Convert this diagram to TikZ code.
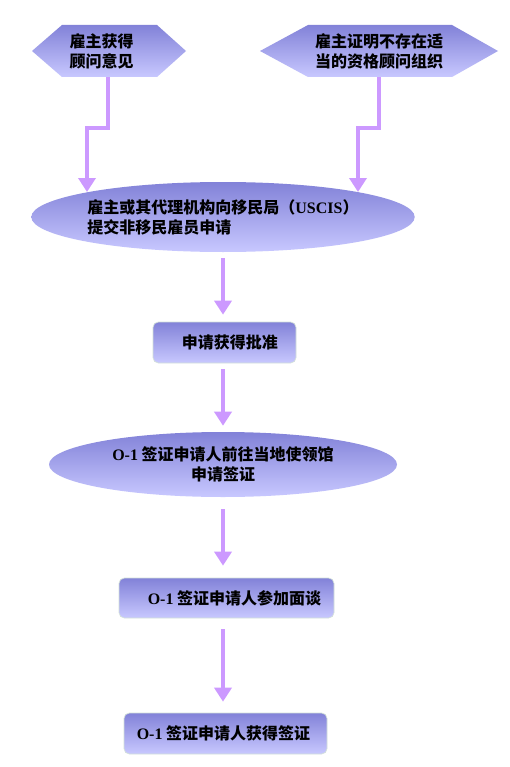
\documentclass[tikz,border=0pt]{standalone}
\usepackage{fontspec}
\setmainfont{Liberation Serif}
\newfontfamily\cjk{Noto Sans CJK SC}
\newcommand{\lat}[1]{{\rmfamily\bfseries #1}}
\usetikzlibrary{arrows.meta,shapes.geometric}
\definecolor{shtop}{HTML}{8282D8}
\definecolor{shbot}{HTML}{C8C8FF}
\definecolor{arrowc}{HTML}{CC99FF}
\definecolor{edgec}{HTML}{D4E2D8}
\tikzset{
  txt/.style={font=\cjk\bfseries\fontsize{12}{15}\selectfont, text=black, inner sep=0pt},
  hexfill/.style={top color=shtop, bottom color=shbot, draw=none},
  ellbox/.style={txt, ellipse, top color=shtop, bottom color=shbot, draw=none},
  rbox/.style={txt, rectangle, rounded corners=4pt, top color=shtop, bottom color=shbot, draw=edgec, line width=0.5pt},
  conn/.style={draw=arrowc, line width=3.4pt, -{Triangle[width=12.75pt,length=10.5pt]}},
}
\begin{document}
\begin{tikzpicture}[x=0.75pt,y=-0.75pt]
\useasboundingbox (0,0) rectangle (510,767);
\fill[white] (0,0) rectangle (510,767);

% hexagons
\path[hexfill] (32,51) -- (62,25) -- (157,25) -- (186,51) -- (157,77) -- (62,77) -- cycle;
\node[txt, minimum width=60pt, minimum height=39pt, align=left] (h1) at (101.5,51) {雇主获得\\顾问意见};
\path[hexfill] (260,51) -- (308,25) -- (452,25) -- (498,51) -- (452,77) -- (308,77) -- cycle;
\node[txt, minimum width=108pt, minimum height=39pt, align=left] (h2) at (379,51) {雇主证明不存在适\\当的资格顾问组织};

% ellipses and boxes
\node[ellbox, minimum width=287.25pt, minimum height=52.5pt, align=left] (e1) at (223,217)
  {雇主或其代理机构向移民局（\lat{USCIS}）\\提交非移民雇员申请};
\node[rbox, minimum width=107.25pt, minimum height=30.75pt] (b1) at (224.5,342.5)
  {\hspace*{8pt}申请获得批准};
\node[ellbox, minimum width=261pt, minimum height=48.75pt, align=center] (e2) at (223,464.5)
  {\lat{O-1} 签证申请人前往当地使领馆\\申请签证};
\node[rbox, minimum width=161.25pt, minimum height=30pt] (b2) at (226.5,598)
  {\hspace*{12pt}\lat{O-1} 签证申请人参加面谈};
\node[rbox, minimum width=152.25pt, minimum height=30.75pt] (b3) at (225.5,733.5)
  {\lat{O-1} 签证申请人获得签证\hspace*{3pt}};

% connectors
\coordinate (m1) at (87,128);
\coordinate (a1) at (87,192);
\coordinate (m2) at (358,128);
\coordinate (a2) at (358,192);
\draw[conn] ([xshift=4.875pt]h1.south) |- (m1) -- (a1);
\draw[conn] (h2.south) |- (m2) -- (a2);
\draw[conn, shorten <=4.5pt, shorten >=5.25pt] (e1.south) -- (e1.south |- b1.north);
\draw[conn, shorten <=4.5pt, shorten >=4.5pt] (e1.south |- b1.south) -- (e1.south |- e2.north);
\draw[conn, shorten <=9pt, shorten >=9pt] (e2.south) -- (e2.south |- b2.north);
\draw[conn, shorten <=8.25pt, shorten >=8.25pt] (e2.south |- b2.south) -- (e2.south |- b3.north);
\end{tikzpicture}
\end{document}
